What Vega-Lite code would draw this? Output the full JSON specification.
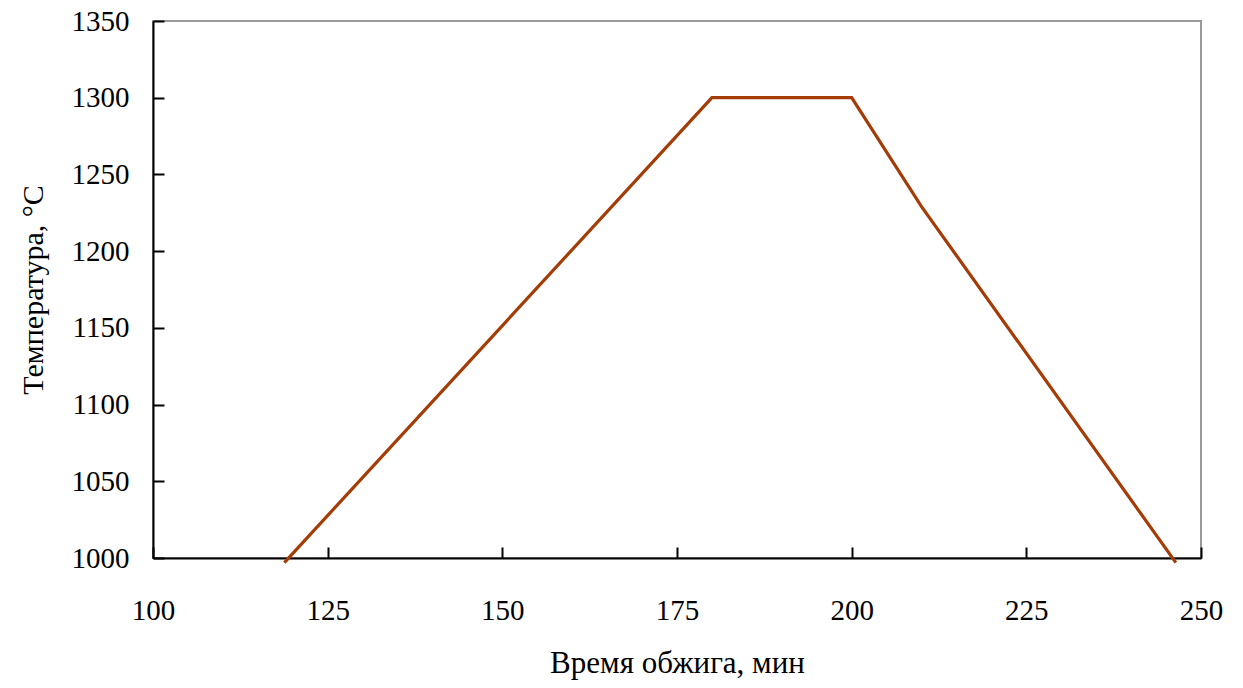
{
  "$schema": "https://vega.github.io/schema/vega-lite/v6.json",
  "width": 1048,
  "height": 537,
  "autosize": "none",
  "padding": {"left": 153, "top": 21, "right": 42, "bottom": 130},
  "background": "white",
  "config": {
    "font": "Liberation Serif",
    "view": {"stroke": "#999999", "strokeWidth": 2},
    "axis": {
      "grid": false,
      "domainColor": "black",
      "domainWidth": 2,
      "tickColor": "black",
      "tickWidth": 2,
      "labelFont": "Liberation Serif",
      "titleFont": "Liberation Serif",
      "labelColor": "black",
      "titleColor": "black",
      "labelFontWeight": "normal",
      "titleFontWeight": "normal",
      "labelFlush": false,
      "labelOverlap": false
    }
  },
  "data": {
    "values": [
      {"t": 118.8, "temp": 997},
      {"t": 180, "temp": 1300},
      {"t": 190, "temp": 1300},
      {"t": 195, "temp": 1300},
      {"t": 200, "temp": 1300},
      {"t": 210, "temp": 1229},
      {"t": 246.4, "temp": 997}
    ]
  },
  "mark": {"type": "line", "color": "#a33c06", "strokeWidth": 3.2, "clip": false},
  "encoding": {
    "x": {
      "field": "t",
      "type": "quantitative",
      "scale": {"domain": [100, 250], "nice": false, "zero": false},
      "axis": {
        "values": [100, 125, 150, 175, 200, 225, 250],
        "format": "d",
        "tickSize": -11,
        "labelPadding": 49,
        "labelFontSize": 29,
        "title": "Время обжига, мин",
        "titleFontSize": 31,
        "titlePadding": 23
      }
    },
    "y": {
      "field": "temp",
      "type": "quantitative",
      "scale": {"domain": [1000, 1350], "nice": false, "zero": false},
      "axis": {
        "values": [1000, 1050, 1100, 1150, 1200, 1250, 1300, 1350],
        "format": "d",
        "tickSize": -11,
        "labelPadding": 35,
        "labelFontSize": 29,
        "title": "Температура, °C",
        "titleFontSize": 30,
        "titlePadding": 23
      }
    }
  }
}
